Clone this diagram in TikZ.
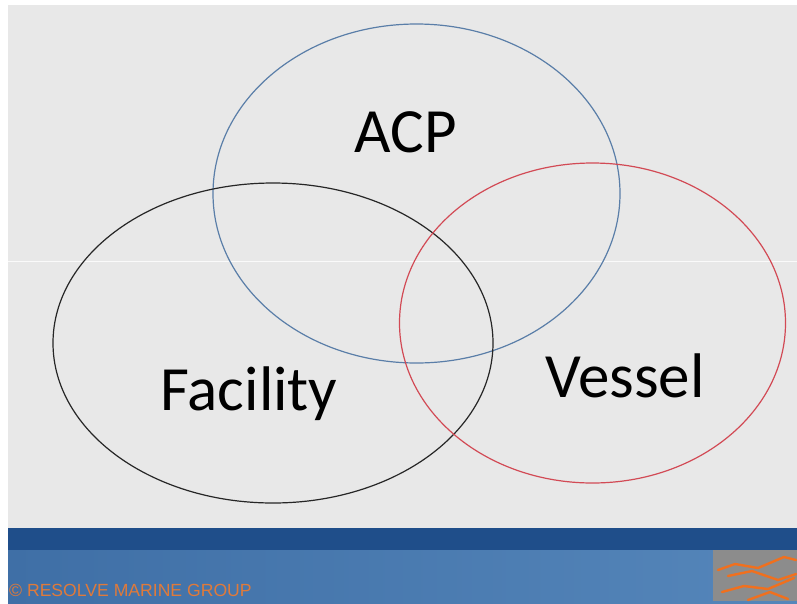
\documentclass[tikz,border=0pt]{standalone}
\usepackage{fontspec}
\setmainfont{Carlito}
\newfontfamily\footfont{Liberation Sans}
\usetikzlibrary{shapes.geometric}
\definecolor{slidegray}{HTML}{E8E8E8}
\definecolor{acpblue}{HTML}{5A7EA8}
\definecolor{vesred}{HTML}{D24A55}
\definecolor{bandtop}{HTML}{1F4E8A}
\definecolor{bandleft}{HTML}{3F6FA6}
\definecolor{bandright}{HTML}{5586BA}
\definecolor{logoorange}{HTML}{F0701E}
\definecolor{footorange}{HTML}{E07A3A}
\tikzset{
  ring/.style={ellipse,draw,line width=1.2pt,inner sep=0pt},
  setname/.style={anchor=base,font=\fontsize{63}{70}\selectfont},
}
\begin{document}
\begin{tikzpicture}[x=1pt,y=-1pt]
    \useasboundingbox (0,0) rectangle (797,603);
    \fill[white] (0,0) rectangle (797,603);
    \fill[slidegray] (8,5) rectangle (797,528);
    \draw[white,line width=0.8pt,opacity=0.8] (8,261)--(797,261);
    % blue band at the foot
    \fill[bandtop] (8,528) rectangle (797,550);
    \shade[left color=bandleft,right color=bandright] (8,550) rectangle (797,603);
    \fill[gray!90] (713,550) rectangle (797,601);
    \draw[logoorange,line width=2.4pt,line cap=round,line join=round]
      (718,570)--(735,564)--(758,568)--(784,557)--(796,560)
      (728,576)--(752,571)--(778,580)--(796,574)
      (722,592)--(744,586)--(768,589)--(794,578)
      (748,600)--(770,592)--(788,599);
    \node[anchor=base west,text=footorange,inner sep=0pt,font=\footfont\fontsize{17.6}{19}\selectfont] (foot) at (9,596) {\textcopyright{} RESOLVE MARINE GROUP};
    % the three sets
    \def\sets{acp/acpblue/416.5/193.5/407/339,fac/black!85/273/343/440/320,ves/vesred/592.5/323/386/320}
    \foreach \n/\c/\x/\y/\w/\h in \sets {\node[ring,draw=\c,minimum width=\w pt,minimum height=\h pt] (\n) at (\x,\y) {};}
    \node[setname] (acplabel) at (406,152) {ACP};
    \node[setname] (faclabel) at (249,410) {Facility};
    \node[setname] (veslabel) at (625,397) {Vessel};
  \end{tikzpicture}
\end{document}
